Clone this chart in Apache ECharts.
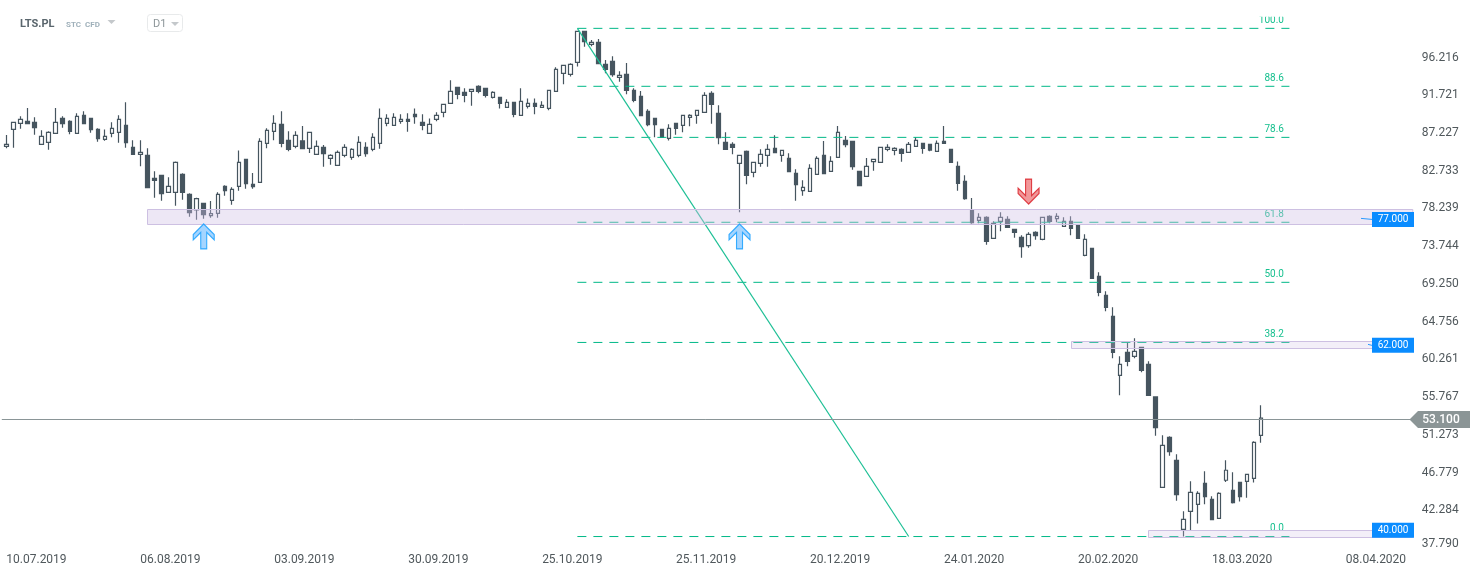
<!DOCTYPE html>
<html><head><meta charset="utf-8">
<style>html,body{margin:0;padding:0;background:#fff}#c{width:1482px;height:574px}</style>
<script src="https://cdn.jsdelivr.net/npm/echarts@6/dist/echarts.min.js"></script>
</head><body><div id="c"></div>
<script>
const opens=[85.46,87.48,88.20,88.44,88.32,85.70,85.94,87.01,88.79,88.44,
87.01,89.15,88.79,87.48,86.29,87.01,87.13,87.96,85.34,84.51,
84.39,81.65,82.01,79.98,79.98,82.13,79.75,77.88,78.67,77.21,
77.48,80.70,79.03,80.70,83.91,80.94,81.17,85.82,87.25,88.08,
86.18,85.46,86.10,85.22,84.51,85.34,84.03,83.20,84.39,84.15,
84.39,85.34,85.10,85.82,88.20,87.96,88.44,88.67,89.27,88.32,
87.01,88.67,89.51,90.58,92.48,91.89,92.01,92.60,92.37,91.29,
91.29,90.10,90.70,89.15,90.22,90.58,90.10,89.98,92.01,94.15,
94.03,95.46,99.15,97.60,97.84,95.22,95.58,93.68,94.03,92.13,
91.41,89.63,88.79,87.48,86.41,88.20,87.96,88.91,89.15,89.51,
91.77,89.39,85.94,85.70,83.44,84.87,82.36,83.44,84.39,85.22,
84.39,84.03,82.25,80.18,80.10,82.13,84.39,82.48,84.15,86.17,
86.06,82.48,81.89,83.63,83.56,85.10,84.98,85.10,84.75,85.46,
85.82,85.70,84.87,86.06,85.10,83.08,81.29,77.88,76.65,77.01,
74.51,76.53,76.77,75.58,74.63,73.63,75.22,74.39,77.13,76.85,
75.94,76.53,76.06,72.48,73.32,69.98,67.72,65.22,58.20,60.93,
60.46,61.53,59.51,55.62,44.86,50.81,48.08,39.86,42.00,42.84,
45.34,43.43,41.17,45.70,44.50,45.46,45.58,45.93,51.05];
const closes=[85.70,88.32,88.68,88.16,87.68,86.65,87.13,88.32,88.16,87.25,
89.03,88.16,87.44,86.37,86.65,87.60,88.68,85.90,84.51,84.75,
80.54,81.41,79.83,80.70,83.56,79.98,77.56,79.23,77.32,77.44,
79.75,80.18,80.34,83.56,81.02,80.66,86.06,87.37,88.20,85.82,
85.10,86.77,85.18,87.13,85.46,84.59,84.39,84.75,85.34,85.10,
85.94,84.59,86.53,88.79,88.79,88.91,88.67,88.44,88.99,87.96,
88.08,89.15,90.46,92.01,91.65,91.53,92.25,92.01,91.53,91.89,
90.58,90.70,89.27,90.82,90.58,90.22,90.34,92.13,94.63,95.10,
95.22,99.15,97.92,97.84,95.30,94.63,93.99,93.91,92.13,90.94,
89.11,88.04,88.04,86.53,87.60,87.60,89.15,89.15,89.75,91.53,
90.46,86.49,85.10,85.34,84.39,82.01,83.56,84.51,85.10,84.71,
84.98,82.44,80.90,80.58,82.84,84.03,82.21,83.67,87.13,85.66,
83.04,80.78,83.08,83.91,85.34,85.34,85.22,84.63,85.70,86.17,
85.22,85.02,85.82,85.82,83.56,81.06,79.23,76.37,77.01,74.15,
76.29,77.01,75.82,75.22,73.52,74.98,74.82,77.01,76.53,77.13,
76.53,75.70,74.51,74.39,69.74,68.08,66.29,60.93,59.51,59.86,
61.05,58.79,55.81,51.97,49.86,49.11,43.99,41.05,44.27,44.15,
43.75,41.01,44.15,46.89,43.04,43.75,46.41,50.22,53.10];
const lows=[85.22,85.30,87.56,88.12,86.85,85.70,85.06,87.01,87.68,86.89,
87.01,88.16,87.09,86.02,86.14,86.53,85.90,85.30,84.51,83.08,
80.54,79.35,78.99,79.98,78.40,79.11,77.09,76.73,76.85,76.97,
76.97,79.59,78.52,80.18,80.42,80.42,81.17,85.22,86.18,85.34,
84.87,85.22,85.18,84.67,84.51,83.04,83.28,83.20,84.15,83.87,
84.15,84.23,84.87,85.18,87.84,87.96,88.16,87.21,88.16,87.37,
87.01,88.44,88.91,90.58,91.06,90.70,90.30,91.77,91.29,91.17,
89.98,90.10,88.91,89.15,89.98,89.27,90.10,89.75,92.01,92.84,
93.79,94.98,97.33,97.37,95.30,94.15,93.75,93.16,91.65,90.70,
89.11,87.84,86.53,86.45,86.17,86.85,87.13,87.84,88.16,89.51,
88.16,85.70,85.10,84.51,77.60,80.94,81.77,83.04,83.04,84.63,
83.63,82.44,78.99,79.59,80.10,82.13,82.13,82.48,84.15,85.34,
82.68,80.78,81.89,82.56,83.56,84.87,84.39,83.63,84.75,85.46,
84.59,84.87,84.87,85.80,83.56,80.18,79.11,76.25,76.29,73.75,
74.51,75.34,75.82,74.59,72.21,73.40,74.35,74.27,76.29,76.41,
75.94,74.86,74.51,72.36,69.74,67.60,65.82,60.22,55.81,59.27,
60.22,58.55,55.81,51.01,44.86,48.63,43.27,38.99,39.74,40.54,
42.84,41.01,41.17,45.50,42.92,43.16,43.63,45.42,50.18];
const highs=[86.81,88.36,89.03,90.02,88.91,87.37,87.25,90.02,89.03,88.56,
89.39,89.63,88.83,87.60,87.48,88.32,89.15,90.70,86.18,86.18,
85.22,82.48,82.05,81.77,83.67,82.25,79.87,79.35,78.67,78.95,
79.98,80.82,80.58,84.98,83.91,82.29,86.41,87.60,89.15,89.63,
87.25,87.25,87.88,87.17,86.17,85.62,84.51,84.98,85.70,85.22,
86.65,85.94,87.01,89.98,89.27,89.39,89.27,89.39,89.98,89.27,
88.79,89.51,90.46,93.32,92.48,92.37,92.25,92.72,92.37,92.01,
91.29,91.06,90.70,92.37,91.17,91.17,90.82,92.13,94.87,95.10,
95.34,99.23,99.15,98.12,98.24,95.74,96.18,94.39,95.38,92.37,
92.05,89.87,88.79,87.48,88.08,88.20,89.15,89.27,89.75,91.89,
92.01,90.34,87.13,85.94,84.39,84.98,83.56,85.10,85.70,86.77,
84.98,84.63,82.72,81.41,83.32,84.27,86.10,84.27,87.88,86.69,
86.06,82.48,84.07,83.91,85.34,85.70,85.34,85.22,85.98,86.53,
85.82,85.70,86.17,87.88,85.10,83.67,82.01,79.31,77.48,77.13,
76.53,77.60,77.13,75.58,74.86,75.22,75.34,77.01,77.25,77.48,
77.01,77.13,76.06,74.98,73.32,70.46,68.20,66.29,60.46,62.13,
62.60,61.53,59.86,55.62,51.05,50.93,48.79,42.00,45.58,44.39,
46.77,43.79,44.27,48.08,46.65,45.46,46.41,50.34,54.62];

const dateLabels=['10.07.2019','06.08.2019','03.09.2019','30.09.2019','25.10.2019','25.11.2019','20.12.2019','24.01.2020','20.02.2020','18.03.2020','08.04.2020'];
const priceTicks=[37.790,42.284,46.779,51.273,55.767,60.261,64.756,69.250,73.744,78.239,82.733,87.227,91.721,96.216];
const fibNames=['100.0','88.6','78.6','61.8','50.0','38.2','0.0'];
const fibPrices=[99.51,92.61,86.53,76.42,69.27,62.11,39.00];
const fibStart=81, fibEnd=182;
const trendStart=[81,99.51], trendEnd=[128,39.00];
const zoneLevels=[77,62,40];
const zoneStarts=[20,151,162];
const zoneHighs=[77.96,62.25,39.75];
const zoneLows=[76.17,61.37,38.86];
const lastPrice=53.1;
const upArrows=[[28,74.73],[104,74.73]];
const downArrows=[[145,80.08]];

const slotCount=200, labelStep=19;
const categories=[];
for(let i=0;i<slotCount;i++) categories.push(i%labelStep===0?dateLabels[i/labelStep]:String(i));
const leaderLengths=[11,4,0];
const zoneAlpha=[0.38,0.25,0.25];

const DARK='#46555f', GREEN='#00b887', TXT='#50585c';
const ARROW='path://M10.5 0L21 10.5L21 16L13.5 8.5L13.5 25L7.5 25L7.5 8.5L0 16L0 10.5Z';
const F='Roboto, sans-serif';

const fibLines=fibPrices.map((p,i)=>({
  type:'line',name:'fib'+fibNames[i],z:3,symbol:'none',silent:true,clip:false,animation:false,
  data:[[fibStart,p],[fibEnd,p]],
  lineStyle:{color:GREEN,width:1,type:[9,7]}
}));

const option={
  animation:false,
  backgroundColor:'#fff',
  grid:{left:2.8,top:18.2,width:1410,height:528.5},
  xAxis:{type:'category',data:categories,boundaryGap:true,
    axisLine:{show:false},axisTick:{show:false},splitLine:{show:false},
    axisLabel:{interval:(i)=>i%labelStep===0,align:'left',margin:7,color:TXT,fontFamily:F,fontSize:12,
      formatter:(v)=>v}},
  yAxis:{type:'value',position:'right',min:37.79,max:100.7185,scale:true,
    axisLine:{show:false},axisTick:{show:false},splitLine:{show:false},
    axisLabel:{customValues:priceTicks,margin:9,color:TXT,fontFamily:F,fontSize:12,padding:[3,0,0,0],
      rich:{m:{color:TXT,fontFamily:F,fontSize:12,padding:[0,0,8,0]}},
      formatter:(v)=>{const s=Number(v).toFixed(3);return Number(v)===priceTicks[0]?'{m|'+s+'}':s;}}},
  graphic:[
    {type:'text',left:20,top:18.5,style:{text:'LTS.PL',fill:'#5a666d',font:'bold 11px Roboto'}},
    {type:'text',left:66,top:21,style:{text:'STC',fill:'#9fb0ba',font:'bold 8px Roboto'}},
    {type:'text',left:85,top:21,style:{text:'CFD',fill:'#9fb0ba',font:'bold 8px Roboto'}},
    {type:'polygon',shape:{points:[[107.5,20],[115.5,20],[111.5,24]]},style:{fill:'#c4c8cb'}},
    {type:'rect',shape:{x:147.5,y:14.5,width:35,height:17,r:3},style:{fill:'#fff',stroke:'#e8eaeb',lineWidth:1}},
    {type:'text',left:153,top:19,style:{text:'D1',fill:'#8d9699',font:'11px Roboto'}},
    {type:'polygon',shape:{points:[[171,22],[179,22],[175,26]]},style:{fill:'#c4c8cb'}}
  ],
  series:[
    {type:'candlestick',name:'LTS.PL',z:2,barWidth:4,
     data:opens.map((o,i)=>[o,closes[i],lows[i],highs[i]]),
     itemStyle:{color:'#fff',color0:DARK,borderColor:DARK,borderColor0:DARK,borderWidth:1.2}},
    ...fibLines,
    {type:'line',name:'trend',z:3,symbol:'none',silent:true,clip:false,
     data:[trendStart,trendEnd],lineStyle:{color:'#1dbf95',width:1.2}},
    {type:'custom',name:'fibLabels',z:3,silent:true,clip:false,
     data:fibPrices.map((p,i)=>[fibEnd,p,i]),
     renderItem:(params,api)=>{
       const c=api.coord([api.value(0),api.value(1)]);
       const r=params.coordSys;
       return {type:'group',clipPath:{type:'rect',shape:{x:0,y:r.y-1.5,width:1482,height:r.height+1.5}},
         children:[{type:'text',style:{x:c[0]-5.5,y:c[1]-3,text:fibNames[api.value(2)],fill:'#17c08f',
           font:'10px Roboto',textAlign:'right',textVerticalAlign:'bottom'}}]};
     }},
    {type:'custom',name:'zones',z:4,silent:true,clip:false,
     data:zoneStarts.map((s,i)=>[s,zoneHighs[i],zoneLows[i],i]),
     renderItem:(params,api)=>{
       const a=api.coord([api.value(0),api.value(1)]);
       const b=api.coord([api.value(0),api.value(2)]);
       const right=params.coordSys.x+params.coordSys.width;
       const x=Math.round(a[0])+0.5,y=Math.round(a[1])+0.5;
       return {type:'rect',shape:{x:x,y:y,width:right-x,height:Math.round(b[1]-a[1])},
         style:{fill:'rgba(208,192,229,'+zoneAlpha[api.value(3)]+')',stroke:'#cdc0e2',lineWidth:1}};
     }},
    {type:'custom',name:'zoneTags',z:6,silent:true,clip:false,
     data:zoneLevels.map((v,i)=>[v,i]),
     renderItem:(params,api)=>{
       const y=api.coord([0,api.value(0)])[1]+2;
       const right=params.coordSys.x+params.coordSys.width+1.2;
       const len=leaderLengths[api.value(1)];
       const kids=[
         {type:'rect',shape:{x:right-42,y:y-7.5,width:42,height:15},style:{fill:'#0a8cff'}},
         {type:'text',style:{x:right-21,y:y,text:api.value(0).toFixed(3),fill:'#fff',font:'10px Roboto',textAlign:'center',textVerticalAlign:'middle'}}
       ];
       if(len) kids.unshift({type:'line',shape:{x1:right-42-len,y1:y-1,x2:right-42,y2:y},style:{stroke:'#2a9bff',lineWidth:1}});
       return {type:'group',children:kids};
     }},
    {type:'custom',name:'lastPrice',z:5,silent:true,clip:false,
     data:[[lastPrice]],
     renderItem:(params,api)=>{
       const y=Math.round(api.coord([0,api.value(0)])[1])+1;
       const r=params.coordSys;
       return {type:'group',children:[
         {type:'line',shape:{x1:r.x-1,y1:y+0.5,x2:1410,y2:y+0.5},style:{stroke:'#8a9597',lineWidth:1}},
         {type:'polygon',shape:{points:[[1409.5,y+0.5],[1418,y-8],[1470,y-8],[1470,y+9],[1418,y+9]]},style:{fill:'#8b9596'}},
         {type:'text',style:{x:1441,y:y+0.5,text:api.value(0).toFixed(3),fill:'#fff',font:'500 12px Roboto',textAlign:'center',textVerticalAlign:'middle'}}
       ]};
     }},
    {type:'scatter',name:'supportArrows',z:7,silent:true,clip:false,symbol:ARROW,symbolSize:[21,25],
     data:upArrows,itemStyle:{color:'#8fcbff',borderColor:'#0d9bff',borderWidth:1.2}},
    {type:'scatter',name:'resistanceArrow',z:7,silent:true,clip:false,symbol:ARROW,symbolSize:[21,25],symbolRotate:180,
     data:downArrows,itemStyle:{color:'#ee7d80',borderColor:'#d81920',borderWidth:1.2}}
  ]
};
const chart=echarts.init(document.getElementById('c'),null,{renderer:'canvas'});
chart.setOption(option);
</script></body></html>
